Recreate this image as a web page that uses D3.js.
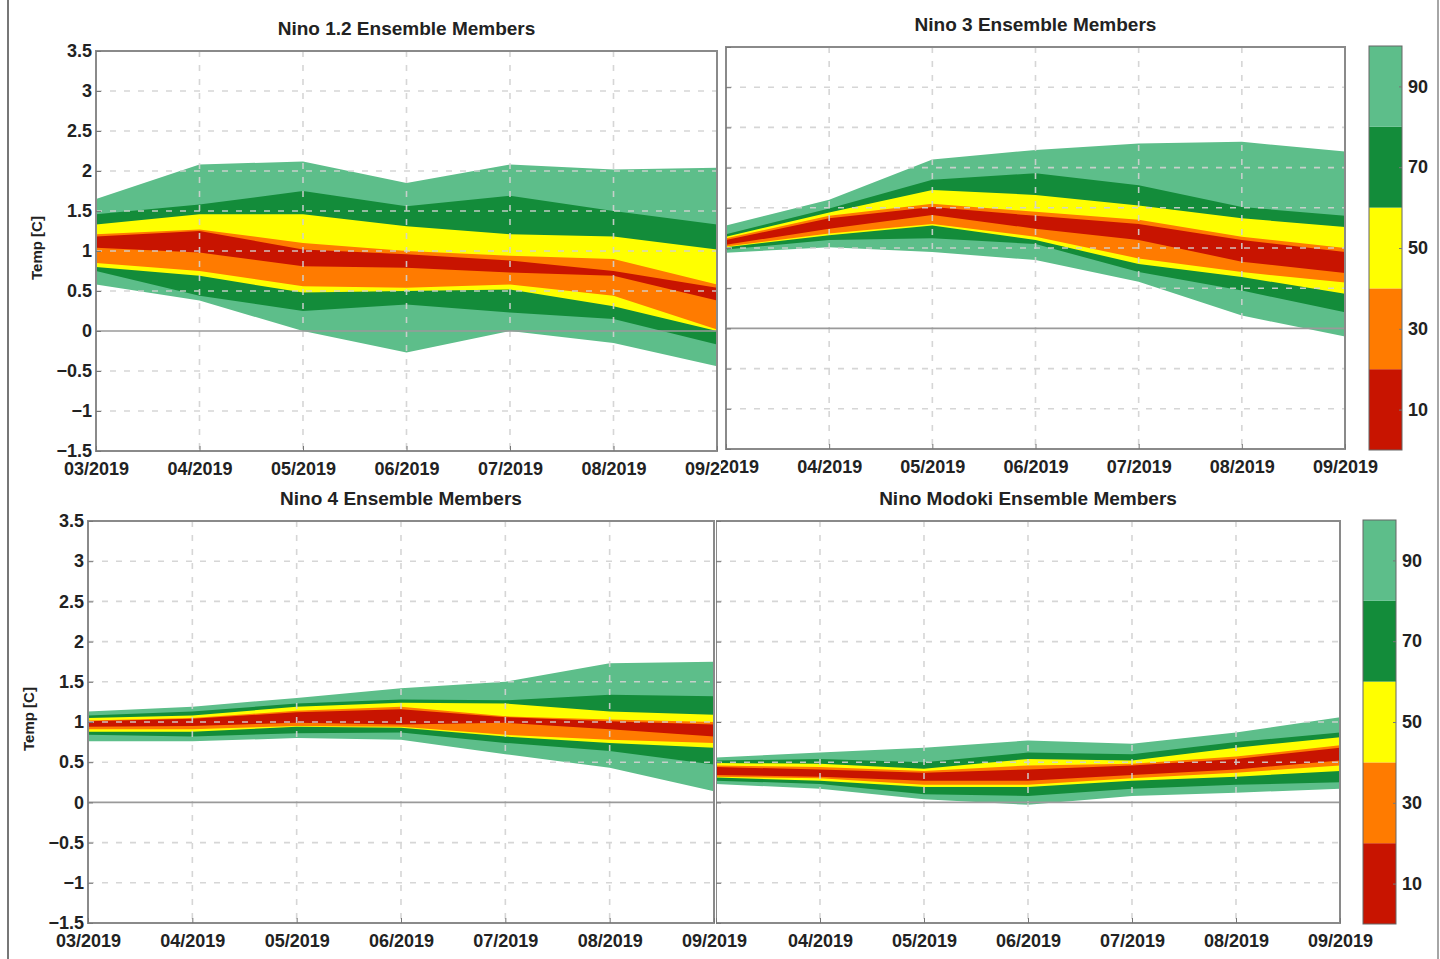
<!DOCTYPE html>
<html>
<head>
<meta charset="utf-8">
<script src="https://cdn.jsdelivr.net/npm/d3@7"></script>
<style>
  body { margin: 0; background: #fff; }
  svg { display: block; font-family: "Liberation Sans", Arial, sans-serif; }
</style>
</head>
<body>
<svg id="chart" width="1440" height="959"></svg>
<script>
// ==================== DATA ====================
const months = ['03/2019', '04/2019', '05/2019', '06/2019', '07/2019', '08/2019', '09/2019'];
const yTicks = [3.5, 3, 2.5, 2, 1.5, 1, 0.5, 0, -0.5, -1, -1.5];
const bandLevels = [90, 70, 50, 30, 10];
const bandColors = ['#5dbe8a', '#138c3a', '#ffff00', '#ff7b00', '#c81400'];
const colorbarTicks = [10, 30, 50, 70, 90];

// upper / lower edge of each central interval (90, 70, 50, 30, 10 %)
const nino12Upper = [
  [1.65, 2.08, 2.12, 1.85, 2.08, 2.02, 2.04],
  [1.46, 1.58, 1.75, 1.56, 1.69, 1.50, 1.33],
  [1.33, 1.46, 1.46, 1.31, 1.21, 1.18, 1.02],
  [1.21, 1.27, 1.10, 1.00, 0.94, 0.90, 0.58],
  [1.18, 1.25, 1.02, 0.96, 0.88, 0.75, 0.54],
];
const nino12Lower = [
  [0.58, 0.38, 0.00, -0.27, 0.00, -0.15, -0.44],
  [0.75, 0.44, 0.25, 0.33, 0.23, 0.15, -0.17],
  [0.80, 0.69, 0.48, 0.50, 0.52, 0.31, 0.00],
  [0.85, 0.75, 0.56, 0.54, 0.58, 0.44, 0.02],
  [1.04, 0.98, 0.81, 0.79, 0.73, 0.69, 0.38],
];

const nino3Upper = [
  [1.28, 1.60, 2.10, 2.22, 2.30, 2.32, 2.20],
  [1.17, 1.49, 1.85, 1.93, 1.78, 1.51, 1.40],
  [1.14, 1.44, 1.72, 1.66, 1.53, 1.37, 1.26],
  [1.12, 1.40, 1.55, 1.45, 1.35, 1.14, 1.00],
  [1.10, 1.37, 1.51, 1.40, 1.30, 1.10, 0.95],
];
const nino3Lower = [
  [0.94, 1.01, 0.95, 0.85, 0.58, 0.16, -0.10],
  [0.98, 1.10, 1.12, 1.05, 0.70, 0.47, 0.20],
  [1.01, 1.16, 1.28, 1.10, 0.80, 0.64, 0.43],
  [1.02, 1.18, 1.30, 1.14, 0.87, 0.70, 0.57],
  [1.04, 1.24, 1.41, 1.24, 1.10, 0.83, 0.69],
];

const nino4Upper = [
  [1.13, 1.19, 1.30, 1.42, 1.50, 1.73, 1.75],
  [1.08, 1.13, 1.23, 1.28, 1.27, 1.34, 1.32],
  [1.05, 1.08, 1.19, 1.24, 1.23, 1.13, 1.09],
  [1.02, 1.05, 1.14, 1.19, 1.07, 1.03, 1.00],
  [1.01, 1.04, 1.12, 1.16, 1.06, 1.01, 0.97],
];
const nino4Lower = [
  [0.76, 0.76, 0.80, 0.78, 0.60, 0.43, 0.14],
  [0.84, 0.82, 0.86, 0.87, 0.74, 0.64, 0.47],
  [0.88, 0.88, 0.94, 0.93, 0.82, 0.74, 0.68],
  [0.91, 0.91, 0.95, 0.94, 0.84, 0.78, 0.74],
  [0.94, 0.95, 0.99, 0.97, 0.99, 0.91, 0.82],
];

const modokiUpper = [
  [0.56, 0.62, 0.68, 0.77, 0.73, 0.87, 1.06],
  [0.52, 0.54, 0.50, 0.62, 0.60, 0.75, 0.87],
  [0.49, 0.48, 0.42, 0.54, 0.52, 0.68, 0.81],
  [0.46, 0.44, 0.39, 0.46, 0.48, 0.57, 0.71],
  [0.44, 0.41, 0.37, 0.41, 0.46, 0.54, 0.68],
];
const modokiLower = [
  [0.23, 0.17, 0.04, -0.03, 0.08, 0.12, 0.17],
  [0.27, 0.23, 0.10, 0.08, 0.17, 0.22, 0.25],
  [0.31, 0.27, 0.19, 0.19, 0.27, 0.32, 0.39],
  [0.32, 0.30, 0.22, 0.22, 0.30, 0.37, 0.46],
  [0.34, 0.32, 0.27, 0.27, 0.34, 0.41, 0.52],
];

// ==================== LAYOUT ====================
// clip: list of [x, y, w, h]; the first one also gets a white backing
const panels = [
  { id: 'p-br', title: 'Nino Modoki Ensemble Members', upper: modokiUpper, lower: modokiLower,
    x0: 716, x1: 1340, y0: 521, y1: 923, titleY: 505, showY: false, hideFirst: true,
    clip: [[716, 476, 724, 483]], colorbar: { x: 1363, w: 33 } },
  { id: 'p-bl', title: 'Nino 4 Ensemble Members', upper: nino4Upper, lower: nino4Lower,
    x0: 88, x1: 714, y0: 521, y1: 923, titleY: 505, showY: true, yLabelX: 30,
    clip: [[0, 476, 716, 483], [600, 926, 170, 33]] },
  { id: 'p-tl', title: 'Nino 1.2 Ensemble Members', upper: nino12Upper, lower: nino12Lower,
    x0: 96, x1: 717, y0: 51, y1: 451, titleY: 35, showY: true, yLabelX: 38,
    clip: [[0, 0, 721, 480]] },
  { id: 'p-tr', title: 'Nino 3 Ensemble Members', upper: nino3Upper, lower: nino3Lower,
    x0: 726, x1: 1345, y0: 47, y1: 449, titleY: 31, showY: false,
    clip: [[721, 0, 719, 480]], colorbar: { x: 1369, w: 33 } },
];

const svg = d3.select('#chart');
const defs = svg.append('defs');
const textColor = '#222';

function styleTicks(sel, size) {
  sel.select('.domain').remove();
  sel.selectAll('.tick line').attr('stroke', '#777').attr('stroke-width', 1);
  sel.selectAll('.tick text')
    .attr('font-size', size)
    .attr('font-weight', 'bold')
    .attr('fill', textColor)
    .attr('font-family', '"Liberation Sans", Arial, sans-serif');
}

function drawPanel(p) {
  defs.append('clipPath').attr('id', `clip-${p.id}`)
    .selectAll('rect')
    .data(p.clip)
    .join('rect')
    .attr('x', (d) => d[0]).attr('y', (d) => d[1])
    .attr('width', (d) => d[2]).attr('height', (d) => d[3]);

  const g = svg.append('g').attr('clip-path', `url(#clip-${p.id})`);
  const bg = p.clip[0];
  g.append('rect')
    .attr('x', bg[0]).attr('y', bg[1])
    .attr('width', bg[2]).attr('height', bg[3])
    .attr('fill', '#fff');

  const x = d3.scalePoint().domain(months).range([p.x0, p.x1]);
  const y = d3.scaleLinear().domain([-1.5, 3.5]).range([p.y1, p.y0]);

  // fan bands, widest first
  bandLevels.forEach((lvl, i) => {
    const area = d3.area()
      .x((d, j) => x(months[j]))
      .y0((d, j) => y(p.lower[i][j]))
      .y1((d) => y(d));
    g.append('path')
      .datum(p.upper[i])
      .attr('d', area)
      .attr('fill', bandColors[i]);
  });

  // dashed grid on top
  const grid = g.append('g').attr('stroke', '#d2d2d2').attr('stroke-width', 1.6)
    .attr('stroke-dasharray', '6,8').attr('opacity', 0.9);
  grid.selectAll('line.h')
    .data(yTicks.filter((v) => v !== 0 && v !== 3.5 && v !== -1.5))
    .join('line')
    .attr('x1', p.x0).attr('x2', p.x1)
    .attr('y1', (d) => y(d)).attr('y2', (d) => y(d));
  grid.selectAll('line.v')
    .data(months.slice(1, -1))
    .join('line')
    .attr('x1', (d) => x(d)).attr('x2', (d) => x(d))
    .attr('y1', p.y0).attr('y2', p.y1);

  g.append('line')
    .attr('x1', p.x0).attr('x2', p.x1)
    .attr('y1', y(0)).attr('y2', y(0))
    .attr('stroke', '#9a9a9a').attr('stroke-width', 1.6);

  g.append('rect')
    .attr('x', p.x0).attr('y', p.y0)
    .attr('width', p.x1 - p.x0).attr('height', p.y1 - p.y0)
    .attr('fill', 'none').attr('stroke', '#8a8a8a').attr('stroke-width', 2);

  // x axis
  const xAxis = g.append('g')
    .attr('transform', `translate(0,${p.y1})`)
    .call(d3.axisBottom(x).tickSize(-5).tickPadding(11));
  styleTicks(xAxis, 18);
  if (p.hideFirst) xAxis.selectAll('.tick text').filter((d, i) => i === 0).remove();

  // y axis
  const yAxis = g.append('g')
    .attr('transform', `translate(${p.x0},0)`)
    .call(d3.axisLeft(y).tickValues(yTicks).tickSize(-5).tickPadding(4)
      .tickFormat((d) => (d < 0 ? '\u2212' + Math.abs(d) : d)));
  styleTicks(yAxis, 18);
  if (!p.showY) yAxis.selectAll('.tick text').remove();

  if (p.showY) {
    g.append('text')
      .attr('transform', `translate(${p.yLabelX},${(p.y0 + p.y1) / 2 - 3}) rotate(-90)`)
      .attr('text-anchor', 'middle')
      .attr('dominant-baseline', 'middle')
      .attr('font-size', 15)
      .attr('font-weight', 'bold')
      .attr('fill', textColor)
      .text('Temp [C]');
  }

  g.append('text')
    .attr('x', (p.x0 + p.x1) / 2)
    .attr('y', p.titleY)
    .attr('text-anchor', 'middle')
    .attr('font-size', 19)
    .attr('font-weight', 'bold')
    .attr('fill', textColor)
    .text(p.title);

  if (p.colorbar) drawColorbar(g, p);
}

function drawColorbar(g, p) {
  const cb = p.colorbar;
  const c = d3.scaleLinear().domain([0, 100]).range([p.y1 + 1, p.y0 - 1]);
  const steps = bandLevels.slice().reverse();
  const cols = bandColors.slice().reverse();
  g.append('g').selectAll('rect')
    .data(steps)
    .join('rect')
    .attr('x', cb.x)
    .attr('y', (d, i) => c((i + 1) * 20))
    .attr('width', cb.w)
    .attr('height', (d, i) => c(i * 20) - c((i + 1) * 20))
    .attr('fill', (d, i) => cols[i]);
  g.append('rect')
    .attr('x', cb.x).attr('y', c(100))
    .attr('width', cb.w).attr('height', c(0) - c(100))
    .attr('fill', 'none').attr('stroke', '#666').attr('stroke-width', 1);
  const axis = g.append('g')
    .attr('transform', `translate(${cb.x + cb.w},0)`)
    .call(d3.axisRight(c).tickValues(colorbarTicks).tickSize(-3).tickPadding(6));
  styleTicks(axis, 18);
}

panels.forEach(drawPanel);

// outer frame edges of the original figure
svg.append('line').attr('x1', 8).attr('x2', 8).attr('y1', 0).attr('y2', 959)
  .attr('stroke', '#777').attr('stroke-width', 2);
svg.append('line').attr('x1', 1438).attr('x2', 1438).attr('y1', 0).attr('y2', 959)
  .attr('stroke', '#888').attr('stroke-width', 1.5);
</script>
</body>
</html>
